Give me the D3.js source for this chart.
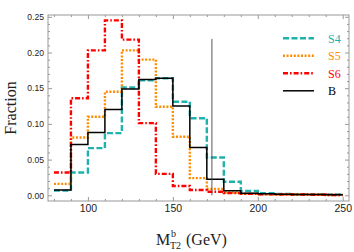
<!DOCTYPE html>
<html>
<head>
<meta charset="utf-8">
<script src="https://cdn.jsdelivr.net/npm/d3@7"></script>
<style>
  body { margin: 0; background: #fff; }
  svg { display: block; font-family: 'Liberation Serif', 'DejaVu Serif', serif; }
  .frame path, .frame line { stroke: #999; }
  .frame text { fill: #222; }
</style>
</head>
<body>
<div id="chart"></div>
<script>
const binEdges = [80, 90, 100, 110, 120, 130, 140, 150, 160, 170, 180, 190, 200, 210, 220, 230, 240, 250];

const s4 = [0.0065, 0.032, 0.066, 0.087, 0.151, 0.161, 0.164, 0.131, 0.108, 0.053, 0.019, 0.006, 0.003, 0.002, 0.0015, 0.001, 0.001];
const s5 = [0.016, 0.081, 0.110, 0.145, 0.203, 0.190, 0.124, 0.082, 0.024, 0.009, 0.004, 0.002, 0.0015, 0.001, 0.001, 0.0008, 0.0005];
const s6 = [0.032, 0.136, 0.203, 0.245, 0.218, 0.101, 0.030, 0.013, 0.0074, 0.005, 0.003, 0.002, 0.0015, 0.001, 0.001, 0.0008, 0.0005];
const bkg = [0.0075, 0.071, 0.088, 0.120, 0.149, 0.162, 0.164, 0.125, 0.067, 0.0225, 0.0065, 0.003, 0.002, 0.0015, 0.001, 0.001, 0.0008];

const seriesNames = ['S4', 'S5', 'S6', 'B'];
const topMass = 173;
const topLineHeight = 0.219;

const xMajor = [100, 150, 200, 250];
const yMajor = [0, 0.05, 0.1, 0.15, 0.2, 0.25];

const width = 354,
  height = 252;

const x = d3.scaleLinear().domain([76.5, 253.7]).range([48, 349]);
const y = d3.scaleLinear().domain([-0.008, 0.2525]).range([201, 15]);

const svg = d3
  .select('#chart')
  .append('svg')
  .attr('width', width)
  .attr('height', height);

// frame: ticks point inward on all four sides
const xMinor = d3.range(80, 251, 10).filter((v) => !xMajor.includes(v));
const yMinor = d3.range(0, 0.2501, 0.01).filter((v) => Math.round(v * 100) % 5 !== 0);

function frameAxis(axis, ticks, size, translate, fmt) {
  return svg
    .append('g')
    .attr('class', 'frame')
    .attr('transform', translate)
    .call(axis.tickValues(ticks).tickSize(size).tickFormat(fmt || ''));
}

frameAxis(d3.axisBottom(x).tickPadding(4), xMajor, -4, 'translate(0,201)', d3.format('d'))
  .selectAll('text')
  .style('font-size', '10.5px');
frameAxis(d3.axisBottom(x), xMinor, -2, 'translate(0,201)');
frameAxis(d3.axisTop(x), xMajor, -4, 'translate(0,15)');
frameAxis(d3.axisTop(x), xMinor, -2, 'translate(0,15)');

frameAxis(d3.axisLeft(y).tickPadding(4), yMajor, -4, 'translate(48,0)', d3.format('.2f'))
  .selectAll('text')
  .style('font-size', '8.6px');
frameAxis(d3.axisLeft(y), yMinor, -2, 'translate(48,0)');
frameAxis(d3.axisRight(y), yMajor, -4, 'translate(349,0)');
frameAxis(d3.axisRight(y), yMinor, -2, 'translate(349,0)');

svg.selectAll('.frame path.domain').remove();
svg
  .append('rect')
  .attr('x', x.range()[0])
  .attr('y', y.range()[1])
  .attr('width', x.range()[1] - x.range()[0])
  .attr('height', y.range()[0] - y.range()[1])
  .attr('fill', 'none')
  .attr('stroke', '#999');

const styles = {
  S4: { data: s4, color: '#1fb1ad', dash: '6,2.5', width: 2.4 },
  S5: { data: s5, color: '#ff8c00', dash: '2,1.6', width: 2.4 },
  S6: { data: s6, color: '#ff0000', dash: '5,2,1.6,2', width: 2.4 },
  B: { data: bkg, color: '#000000', dash: null, width: 1.5 },
};

const step = d3
  .line()
  .x((d) => x(d[0]))
  .y((d) => y(d[1]))
  .curve(d3.curveStepAfter);

seriesNames.forEach((name) => {
  const s = styles[name];
  const pts = s.data.map((v, i) => [binEdges[i], v]);
  pts.push([binEdges[binEdges.length - 1], s.data[s.data.length - 1]]);
  svg
    .append('path')
    .attr('d', step(pts))
    .attr('fill', 'none')
    .attr('stroke', s.color)
    .attr('stroke-width', s.width)
    .attr('stroke-dasharray', s.dash);
});

// top mass marker
svg
  .append('line')
  .attr('x1', x(topMass))
  .attr('x2', x(topMass))
  .attr('y1', y(0))
  .attr('y2', y(topLineHeight))
  .attr('stroke', '#444')
  .attr('stroke-width', 0.9);

// legend
const legend = svg.append('g');
seriesNames.forEach((name, i) => {
  const s = styles[name];
  const ly = 38.3 + i * 17.5;
  legend
    .append('line')
    .attr('x1', 283)
    .attr('x2', 314)
    .attr('y1', ly)
    .attr('y2', ly)
    .attr('stroke', s.color)
    .attr('stroke-width', s.width)
    .attr('stroke-dasharray', s.dash);
  legend
    .append('text')
    .attr('x', 328)
    .attr('y', ly)
    .attr('dy', '0.35em')
    .attr('fill', s.color)
    .style('font-size', '12px')
    .text(name);
});

// axis titles
svg
  .append('text')
  .attr('transform', 'translate(16,108) rotate(-90)')
  .attr('text-anchor', 'middle')
  .attr('fill', '#222')
  .style('font-size', '16px')
  .text('Fraction');

svg
  .append('text')
  .attr('x', 156)
  .attr('y', 245)
  .attr('fill', '#222')
  .style('font-size', '16px')
  .text('M');
svg
  .append('text')
  .attr('x', 171)
  .attr('y', 236.5)
  .attr('fill', '#222')
  .style('font-size', '10px')
  .text('b');
svg
  .append('text')
  .attr('x', 170)
  .attr('y', 249)
  .attr('fill', '#222')
  .style('font-size', '10px')
  .text('T2');
svg
  .append('text')
  .attr('x', 186)
  .attr('y', 245)
  .attr('fill', '#222')
  .style('font-size', '16px')
  .text('(GeV)');
</script>
</body>
</html>
